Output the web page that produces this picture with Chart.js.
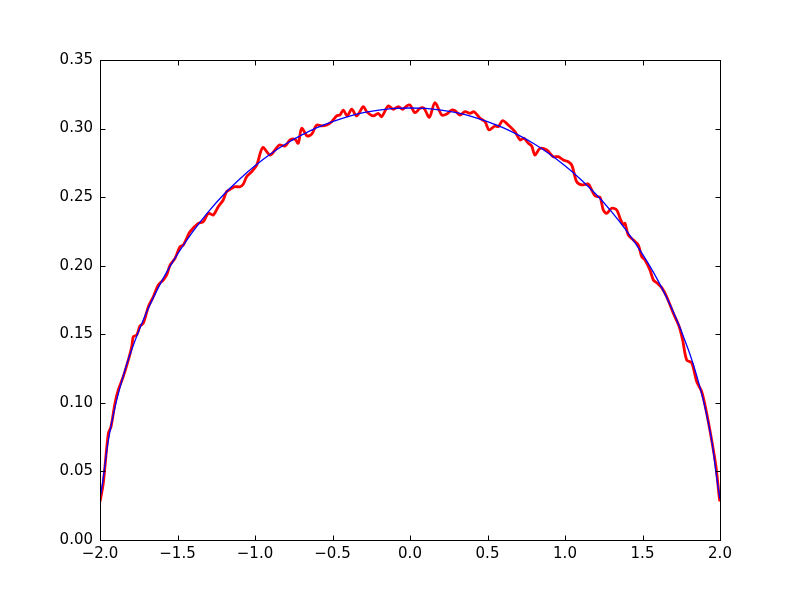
<!DOCTYPE html>
<html>
<head>
<meta charset="utf-8">
<script src="https://cdn.jsdelivr.net/npm/chart.js@4.4.0/dist/chart.umd.min.js"></script>
<style>
body { margin: 0; background: #fff; }
</style>
</head>
<body>
<canvas id="plot" width="800" height="600"></canvas>
<script>
// tick values
var xTicks = [-2.0, -1.5, -1.0, -0.5, 0.0, 0.5, 1.0, 1.5, 2.0];
var yTicks = [0.00, 0.05, 0.10, 0.15, 0.20, 0.25, 0.30, 0.35];

// smooth (blue) curve
var blueX = [-2.0, -1.98, -1.95, -1.9, -1.85, -1.8, -1.7, -1.6, -1.5, -1.4, -1.3, -1.2, -1.1, -1.0,
    -0.9, -0.8, -0.7, -0.6, -0.5, -0.4, -0.3, -0.2, -0.1, 0.0, 0.1, 0.2, 0.3, 0.4, 0.5, 0.6, 0.7,
    0.8, 0.9, 1.0, 1.1, 1.2, 1.3, 1.4, 1.5, 1.6, 1.7, 1.8, 1.85, 1.9, 1.95, 1.98, 2.0];
var blueY = [0.030, 0.0444, 0.0700, 0.0984, 0.1197, 0.1374, 0.1660, 0.1891, 0.2084, 0.2250, 0.2395, 0.2521, 0.2631, 0.2729,
    0.2815, 0.2889, 0.2952, 0.3007, 0.3051, 0.3088, 0.3116, 0.3135, 0.3147, 0.3150, 0.3147, 0.3135, 0.3116, 0.3088, 0.3051, 0.3007, 0.2952,
    0.2889, 0.2815, 0.2729, 0.2631, 0.2521, 0.2395, 0.2250, 0.2084, 0.1891, 0.1660, 0.1374, 0.1197, 0.0984, 0.0700, 0.0444, 0.030];

// noisy (red) curve
var redX = [
    -2.000, -1.979, -1.946, -1.929, -1.903, -1.882, -1.850, -1.817, -1.795, -1.785,
    -1.763, -1.742, -1.721, -1.688, -1.656, -1.624, -1.592, -1.570, -1.548, -1.516,
    -1.484, -1.463, -1.441, -1.419, -1.366, -1.334, -1.301, -1.269, -1.237, -1.205,
    -1.183, -1.150, -1.129, -1.097, -1.075, -1.054, -1.021, -0.989, -0.950, -0.903,
    -0.871, -0.843, -0.806, -0.774, -0.742, -0.721, -0.699, -0.663, -0.634, -0.602,
    -0.570, -0.537, -0.505, -0.473, -0.452, -0.430, -0.405, -0.376, -0.344, -0.301,
    -0.279, -0.237, -0.205, -0.183, -0.140, -0.108, -0.075, -0.047, -0.021, 0.000,
    0.032, 0.065, 0.090, 0.125, 0.161, 0.205, 0.237, 0.269, 0.290, 0.323,
    0.355, 0.387, 0.413, 0.452, 0.484, 0.510, 0.548, 0.570, 0.598, 0.634,
    0.677, 0.710, 0.735, 0.763, 0.785, 0.806, 0.839, 0.882, 0.925, 0.957,
    0.989, 1.021, 1.045, 1.075, 1.108, 1.150, 1.172, 1.194, 1.226, 1.247,
    1.269, 1.301, 1.334, 1.355, 1.376, 1.387, 1.408, 1.441, 1.473, 1.495,
    1.516, 1.548, 1.570, 1.596, 1.624, 1.656, 1.699, 1.737, 1.759, 1.785,
    1.817, 1.850, 1.882, 1.914, 1.946, 1.974, 1.996, 2.000];
var redY = [
    0.0279, 0.0413, 0.0778, 0.0826, 0.0999, 0.1094, 0.1191, 0.1313, 0.1410, 0.1483,
    0.1495, 0.1560, 0.1580, 0.1701, 0.1774, 0.1859, 0.1896, 0.1932, 0.2005, 0.2054,
    0.2139, 0.2151, 0.2200, 0.2248, 0.2309, 0.2321, 0.2382, 0.2370, 0.2430, 0.2479,
    0.2540, 0.2564, 0.2576, 0.2576, 0.2596, 0.2649, 0.2686, 0.2734, 0.2861, 0.2807,
    0.2844, 0.2880, 0.2873, 0.2917, 0.2922, 0.2893, 0.3002, 0.2946, 0.2960, 0.3026,
    0.3019, 0.3026, 0.3050, 0.3092, 0.3099, 0.3135, 0.3092, 0.3141, 0.3092, 0.3160,
    0.3123, 0.3092, 0.3111, 0.3087, 0.3165, 0.3141, 0.3160, 0.3141, 0.3165, 0.3172,
    0.3116, 0.3148, 0.3148, 0.3082, 0.3189, 0.3099, 0.3106, 0.3135, 0.3130, 0.3099,
    0.3123, 0.3111, 0.3123, 0.3075, 0.3050, 0.2990, 0.3019, 0.3014, 0.3058, 0.3026,
    0.2977, 0.2917, 0.2929, 0.2893, 0.2873, 0.2807, 0.2856, 0.2844, 0.2795, 0.2795,
    0.2771, 0.2758, 0.2730, 0.2613, 0.2589, 0.2596, 0.2552, 0.2508, 0.2499, 0.2406,
    0.2382, 0.2419, 0.2406, 0.2346, 0.2297, 0.2309, 0.2224, 0.2187, 0.2151, 0.2066,
    0.2042, 0.1969, 0.1896, 0.1872, 0.1840, 0.1774, 0.1653, 0.1555, 0.1458, 0.1313,
    0.1293, 0.1154, 0.1081, 0.0924, 0.0729, 0.0535, 0.0304, 0.0280];

function toPoints(xs, ys) {
    var pts = [];
    for (var i = 0; i < xs.length; i++)
        pts.push({ x: xs[i], y: ys[i] });
    return pts;
}

function fmt(v, d) {
    var s = Math.abs(v).toFixed(d);
    return (v < 0 ? "\u2212" : "") + s;
}

// frame + inward ticks like the old matplotlib look
var frameTicks = {
    id: 'frameTicks',
    afterDraw: function (chart) {
        var ctx = chart.ctx;
        var a = chart.chartArea;
        var xs = chart.scales.x, ys = chart.scales.y;
        var L = Math.round(a.left) + 0.5, R = Math.round(a.right) + 0.5;
        var T = Math.round(a.top) + 0.5, B = Math.round(a.bottom) + 0.5;
        var len = 5;
        ctx.save();
        ctx.strokeStyle = '#000';
        ctx.lineWidth = 1;
        ctx.beginPath();
        for (var i = 0; i < xTicks.length; i++) {
            var px = Math.round(xs.getPixelForValue(xTicks[i])) + 0.5;
            ctx.moveTo(px, B); ctx.lineTo(px, B - len);
            ctx.moveTo(px, T); ctx.lineTo(px, T + len);
        }
        for (var j = 0; j < yTicks.length; j++) {
            var py = Math.round(ys.getPixelForValue(yTicks[j])) + 0.5;
            ctx.moveTo(L, py); ctx.lineTo(L + len, py);
            ctx.moveTo(R, py); ctx.lineTo(R - len, py);
        }
        ctx.stroke();
        ctx.strokeRect(L, T, R - L, B - T);
        ctx.restore();
    }
};

var tickFont = { family: 'DejaVu Sans', size: 15 };

var plot = new Chart(document.getElementById('plot'), {
    type: 'scatter',
    data: {
        datasets: [{
            data: toPoints(blueX, blueY),
            showLine: true,
            borderColor: '#0000ff',
            borderWidth: 1.3,
            pointRadius: 0,
            cubicInterpolationMode: 'monotone',
            order: 0
        }, {
            data: toPoints(redX, redY),
            showLine: true,
            borderColor: '#ff0000',
            borderWidth: 2.8,
            pointRadius: 0,
            tension: 0.3,
            order: 1
        }]
    },
    options: {
        responsive: false,
        animation: false,
        layout: { padding: { top: 60, right: 80, left: 0, bottom: 0 } },
        plugins: { legend: { display: false }, tooltip: { enabled: false } },
        scales: {
            x: {
                type: 'linear',
                min: -2, max: 2,
                grid: { display: false, drawTicks: false },
                border: { display: false },
                afterBuildTicks: function (s) { s.ticks = xTicks.map(function (v) { return { value: v }; }); },
                afterFit: function (s) { s.height = 60; },
                ticks: {
                    color: '#000', font: tickFont, padding: 5, maxRotation: 0,
                    callback: function (v) { return fmt(v, 1); }
                }
            },
            y: {
                type: 'linear',
                min: 0, max: 0.35,
                grid: { display: false, drawTicks: false },
                border: { display: false },
                afterBuildTicks: function (s) { s.ticks = yTicks.map(function (v) { return { value: v }; }); },
                afterFit: function (s) { s.width = 100; },
                ticks: {
                    color: '#000', font: tickFont, padding: 7,
                    callback: function (v) { return fmt(v, 2); }
                }
            }
        }
    },
    plugins: [frameTicks]
});
</script>
</body>
</html>
